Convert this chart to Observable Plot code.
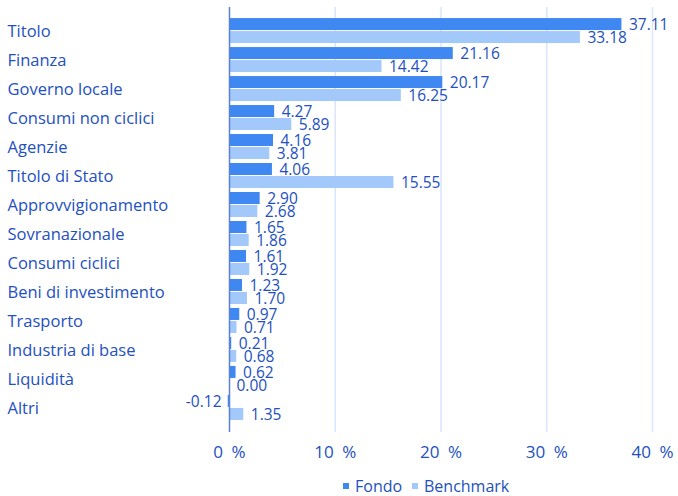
<!DOCTYPE html>
<html>
<head>
<meta charset="utf-8">
<script src="https://cdn.jsdelivr.net/npm/d3@7"></script>
<script src="https://cdn.jsdelivr.net/npm/@observablehq/plot@0.6"></script>
<style>
  body { margin: 0; background: #fff; font-family: "Open Sans", sans-serif; }
  #legend { position: relative; height: 26px; font-size: 16px; color: #2350c0; }
  #legend span.item { position: absolute; top: 5px; white-space: nowrap; }
  #legend span.sw { display: inline-block; width: 6px; height: 6px; margin-right: 6px; vertical-align: middle; position: relative; top: -2px; }
</style>
</head>
<body>
<div id="chart"></div>
<div id="legend"></div>
<script>
const categories = ["Titolo","Finanza","Governo locale","Consumi non ciclici","Agenzie","Titolo di Stato","Approvvigionamento","Sovranazionale","Consumi ciclici","Beni di investimento","Trasporto","Industria di base","Liquidità","Altri"];
const fondo = [37.11,21.16,20.17,4.27,4.16,4.06,2.90,1.65,1.61,1.23,0.97,0.21,0.62,-0.12];
const benchmark = [33.18,14.42,16.25,5.89,3.81,15.55,2.68,1.86,1.92,1.70,0.71,0.68,0.00,1.35];
const xTicks = [0,10,20,30,40];
const seriesNames = ["Fondo","Benchmark"];
const colors = ["#3f88f2","#a3c8fa"];
const textColor = "#2350c0";

const dF = categories.map((c,i)=>({cat:c, v:fondo[i]}));
const dB = categories.map((c,i)=>({cat:c, v:benchmark[i]}));

const chart = Plot.plot({
  width: 678,
  height: 470,
  marginLeft: 229,
  marginRight: 26,
  marginTop: 7,
  marginBottom: 38,
  style: {fontFamily: "'Open Sans', sans-serif", color: textColor, background: "#fff"},
  x: {domain: [0, 40], ticks: xTicks, label: null},
  y: {domain: categories, paddingInner: 0, paddingOuter: 0.33, round: false, axis: null},
  marks: [
    Plot.ruleX(xTicks.filter(d=>d!==0), {stroke: "#d9e6fb", strokeWidth: 1.5}),
    Plot.barX(dF, {y: "cat", x: "v", fill: colors[0], insetTop: 1.5, insetBottom: 15.5}),
    Plot.barX(dB, {y: "cat", x: "v", fill: colors[1], insetTop: 14.5, insetBottom: 2.5}),
    Plot.ruleX([0], {stroke: "#5a80d8", strokeWidth: 1.5}),
    Plot.text(dF.filter(d=>d.v>=0), {y: "cat", x: "v", text: d=>d.v.toFixed(2), dy: -6.5,
      dx: 7, textAnchor: "start", fill: textColor, fontSize: 15.5}),
    Plot.text(dF.filter(d=>d.v<0), {y: "cat", x: 0, text: d=>d.v.toFixed(2), dy: -6.5,
      dx: -8, textAnchor: "end", fill: textColor, fontSize: 15.5}),
    Plot.text(dB, {y: "cat", x: "v", text: d=>d.v.toFixed(2), dy: 6.5, dx: 7,
      textAnchor: "start", fill: textColor, fontSize: 15.5}),
    Plot.text(categories, {y: d=>d, text: d=>d, frameAnchor: "left", dx: -222,
      textAnchor: "start", fill: textColor, fontSize: 16.5}),
    Plot.axisX({ticks: xTicks, tickFormat: d=>d+"\u2002%", tickSize: 0, tickPadding: 13,
      fontSize: 17, fill: textColor, label: null})
  ]
});
document.getElementById("chart").appendChild(chart);

const legend = document.getElementById("legend");
const positions = [343, 412];
seriesNames.forEach((n,i)=>{
  const s = document.createElement("span");
  s.className = "item";
  s.style.left = positions[i] + "px";
  s.innerHTML = `<span class="sw" style="background:${colors[i]}"></span>${n}`;
  legend.appendChild(s);
});
</script>
</body>
</html>
